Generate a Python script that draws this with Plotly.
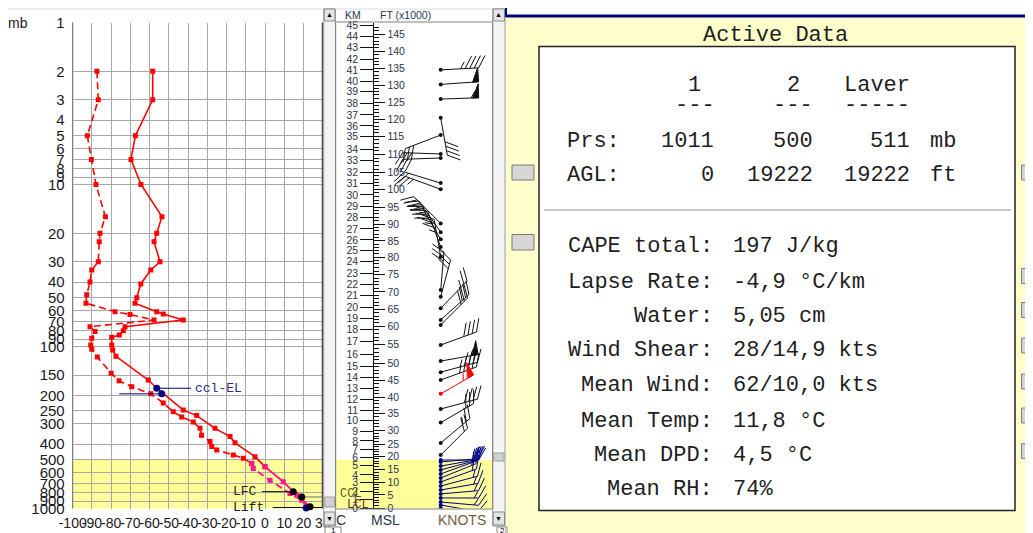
import numpy as np
import plotly.graph_objects as go

W, H = 1033, 533          # target picture size
OFF = 8                   # page body margin
FW_, FH_ = W - OFF, H - OFF
SANS = "Arial, Liberation Sans, sans-serif"
MONO = "Courier New, Liberation Mono, monospace"

# ---------------- sounding data ----------------
temp_p = [2, 3, 5, 7, 10, 15.8, 20, 22.6, 30, 33.7, 41.1, 50, 54.1, 61, 63, 68.6, 75.5, 79.9,
          84.9, 87.7, 97.9, 105, 115, 161, 181, 247, 267, 320, 360, 393, 479, 552, 684, 826, 975, 1011]
temp_c = [-58.4, -58.4, -67.4, -69.7, -64.5, -53.6, -56.3, -57.7, -54.6, -59.4, -64.6, -66.7, -67.6,
          -56.3, -52.9, -42.5, -72.8, -73.7, -75.8, -79.7, -79.7, -79.2, -77.5, -60.7, -56.3, -42.5,
          -35.5, -26.0, -18.2, -15.6, -5.2, 0.0, 9.5, 16.5, 23.4, 24.3]
dew_p = [2, 3, 5, 7, 10, 15.8, 20, 22.6, 30, 33.7, 40, 48, 54, 61, 63.5, 68.6, 75.5, 80.8, 89, 98,
         104, 116, 146, 163, 177, 196, 223, 253, 272, 292, 320, 353, 386, 415, 435, 467, 489, 527,
         567, 670, 808, 889, 975, 1011]
dew_c = [-87.4, -86.7, -92.4, -90.3, -87.9, -83.0, -85.8, -86.2, -86.7, -90.1, -91.0, -92.7, -93.1,
         -78.0, -70.2, -57.7, -91.0, -88.4, -90.1, -90.6, -90.1, -87.2, -80.0, -75.9, -69.3, -59.4,
         -52.9, -47.7, -43.3, -37.3, -33.8, -33.0, -28.6, -27.7, -25.1, -16.5, -11.3, -6.9, -6.1,
         2.6, 13.0, 19.1, 21.7, 22.0]
layer_top_p, layer_bot_p = 500, 1011

p_ticks = [1, 2, 3, 4, 5, 6, 7, 8, 9, 10, 20, 30, 40, 50, 60, 70, 80, 90, 100, 150, 200, 250, 300,
           400, 500, 600, 700, 800, 900, 1000]
t_ticks = list(range(-100, 31, 10))

# parcel levels (temperature C, pressure mb)
ccl_el = (-56.3, 181)
lfc_el = (-53.7, 196)
lfc_pt = (14.7, 787)
lcl_pt = (19.1, 849)
lift_pt = (23.4, 975)
sfc_pt = (21.4, 992)

# ---------------- wind data ----------------
barb_p = [1.96, 2.41, 2.97, 3.87, 4.95, 6.48, 6.86, 9.8, 10.7, 17.4, 19.7, 21.8, 24.3, 27.9, 44.8,
          49.3, 58.1, 68.6, 73.6, 97.9, 123, 144, 161, 196, 243, 295, 394, 468, 502, 516, 547, 578,
          612, 648, 686, 727, 769, 813, 861, 912, 951, 994]
barb_dir = [87, 86, 88, 170, 249, 272, 268, 287, 290, 315, 325, 330, 340, 350, 5, 15, 44, 48, 45,
            70, 80, 75, 70, 60, 75, 60, 50, 45, 90, 85, 80, 75, 70, 68, 70, 75, 80, 85, 90, 95, 100, 170]
barb_spd = [45, 50, 55, 40, 30, 25, 30, 20, 25, 35, 35, 40, 35, 35, 30, 30, 25, 30, 30, 40, 55, 45,
            45, 65, 40, 30, 25, 20, 20, 20, 20, 20, 20, 20, 20, 15, 15, 15, 15, 15, 10, 10]
highlight_p = 196

km_labels = list(range(46))
km_p = [1000, 877, 780, 693, 621, 539, 483, 431, 383, 336, 287, 247, 212, 181, 155, 132, 112, 93.4,
        78.3, 66.9, 57.3, 48.6, 41.3, 35.3, 29.7, 25.6, 22.0, 18.8, 16.0, 13.7, 11.6, 9.83, 8.46,
        7.13, 6.04, 5.07, 4.35, 3.72, 3.15, 2.67, 2.30, 1.96, 1.68, 1.43, 1.22, 1.04]
ft_major = list(range(0, 146, 5))
ft_minor = list(range(0, 148))

# ---------------- active data panel ----------------
hdr_cols = ["1", "2", "Laver"]
hdr_dash = ["---", "---", "-----"]
prs_vals = ["1011", "500", "511"]
agl_vals = ["0", "19222", "19222"]
stat_labels = ["CAPE total:", "Lapse Rate:", "Water:", "Wind Shear:", "Mean Wind:",
               "Mean Temp:", "Mean DPD:", "Mean RH:"]
stat_values = ["197 J/kg", "-4,9 °C/km", "5,05 cm", "28/14,9 kts", "62/10,0 kts",
               "11,8 °C", "4,5 °C", "74%"]

# ---------------- geometry (screen pixels) ----------------
XL, XR = 72.7, 322.7
YT, YB = 22.5, 508.5
WL, WR = 335.7, 492.7
AXX = 373.3
STX = 440.7


def PX(x):
    return (x - OFF) / FW_


def PY(y):
    return 1 - (y - OFF) / FH_


RED, PINK, NAVY, BLACK = "#ff0000", "#ff1493", "#000080", "#111111"
fig = go.Figure()


# ---- main thermo chart ----
def split(pv, tv, lo):
    pv, tv = np.array(pv, float), np.array(tv, float)
    k = int(np.argmax(pv >= lo))
    return (pv[:k + 1], tv[:k + 1]), (pv[k:], tv[k:])


for pv, tv, dash in [(temp_p, temp_c, "solid"), (dew_p, dew_c, "7px,4px")]:
    up, lo = split(pv, tv, layer_top_p)
    fig.add_trace(go.Scatter(x=up[1], y=up[0], mode="lines+markers",
                             line=dict(color=RED, width=1.6, dash=dash),
                             marker=dict(symbol="square", size=5, color=RED),
                             xaxis="x", yaxis="y", hoverinfo="skip"))
    fig.add_trace(go.Scatter(x=lo[1], y=lo[0], mode="lines+markers",
                             line=dict(color=PINK, width=1.8, dash=dash),
                             marker=dict(symbol="square", size=5, color=PINK),
                             xaxis="x", yaxis="y", hoverinfo="skip", cliponaxis=False))

lvl_lines = [
    ([ccl_el[0], -38.5], [ccl_el[1]] * 2, NAVY),
    ([-75.8, lfc_el[0]], [lfc_el[1]] * 2, NAVY),
    ([-1.5, lfc_pt[0]], [lfc_pt[1]] * 2, BLACK),
    ([lcl_pt[0], 30], [lcl_pt[1]] * 2, "#707070"),
    ([4.0, 30], [986] * 2, BLACK),
]
for xs, ys, c in lvl_lines:
    fig.add_trace(go.Scatter(x=xs, y=ys, mode="lines", line=dict(color=c, width=1),
                             xaxis="x", yaxis="y", hoverinfo="skip"))
fig.add_trace(go.Scatter(x=[ccl_el[0], lfc_el[0], sfc_pt[0]], y=[ccl_el[1], lfc_el[1], sfc_pt[1]],
                         mode="markers", marker=dict(size=7, color=NAVY), cliponaxis=False,
                         xaxis="x", yaxis="y", hoverinfo="skip"))
fig.add_trace(go.Scatter(x=[lfc_pt[0], lcl_pt[0], lift_pt[0]], y=[lfc_pt[1], lcl_pt[1], lift_pt[1]],
                         mode="markers", marker=dict(size=7, color="#000000"), cliponaxis=False,
                         xaxis="x", yaxis="y", hoverinfo="skip"))

# ---- wind barbs ----
pxd = (YB - YT) / 3.0


def wxy(p, dx, dy):
    return STX - WL + dx, np.log10(p) - dy / pxd


Lb, FULL, SP, FLW = 38, 14, 4.5, 6
groups = {}
dots_x, dots_y, dots_c = [], [], []
for p, d, s in zip(barb_p, barb_dir, barb_spd):
    col = RED if p == highlight_p else (NAVY if p >= layer_top_p else BLACK)
    g = groups.setdefault(col, dict(lx=[], ly=[], fx=[], fy=[]))
    t = np.radians(d)
    ux, uy = np.sin(t), np.cos(t)
    nx, ny = -uy, ux
    bx, by = 0.5 * ux + 0.866 * nx, 0.5 * uy + 0.866 * ny
    segs = [((0, 0), (Lb * ux, Lb * uy))]
    n50, r = divmod(int(round(s / 5.0)) * 5, 50)
    n10, r = divmod(r, 10)
    n5 = r // 5
    pos = Lb
    for _ in range(n50):
        tri = [(pos * ux, pos * uy), (pos * ux + FULL * nx, pos * uy + FULL * ny),
               ((pos - FLW) * ux, (pos - FLW) * uy), (pos * ux, pos * uy)]
        for a, b in tri:
            xx, yy = wxy(p, a, b)
            g["fx"].append(xx); g["fy"].append(yy)
        g["fx"].append(None); g["fy"].append(None)
        pos -= FLW + 1.5
    for _ in range(n10):
        segs.append(((pos * ux, pos * uy), (pos * ux + FULL * bx, pos * uy + FULL * by)))
        pos -= SP
    if n5:
        if n50 + n10 == 0:
            pos -= SP
        segs.append(((pos * ux, pos * uy), (pos * ux + 0.55 * FULL * bx, pos * uy + 0.55 * FULL * by)))
    for a, b in segs:
        x0, y0 = wxy(p, *a)
        x1, y1 = wxy(p, *b)
        g["lx"] += [x0, x1, None]
        g["ly"] += [y0, y1, None]
    sx, sy = wxy(p, 0, 0)
    dots_x.append(sx); dots_y.append(sy); dots_c.append(col)

for col, g in groups.items():
    fig.add_trace(go.Scatter(x=g["lx"], y=g["ly"], mode="lines", line=dict(color=col, width=1),
                             xaxis="x2", yaxis="y2", hoverinfo="skip"))
    if g["fx"]:
        fig.add_trace(go.Scatter(x=g["fx"], y=g["fy"], mode="lines", fill="toself", fillcolor=col,
                                 line=dict(color=col, width=1), xaxis="x2", yaxis="y2", hoverinfo="skip"))
fig.add_trace(go.Scatter(x=dots_x, y=dots_y, mode="markers", marker=dict(size=4, color=dots_c),
                         xaxis="x2", yaxis="y2", hoverinfo="skip"))
for ya in ["y3", "y4"]:
    fig.add_trace(go.Scatter(x=[1], y=[1.5], mode="markers", marker=dict(opacity=0),
                             xaxis="x2", yaxis=ya, hoverinfo="skip"))

km_vals = np.log10(km_p)
km_idx = np.array(km_labels, float)
ft_major_pos = np.interp(np.array(ft_major) * 0.3048, km_idx, km_vals)
ft_minor_pos = np.interp(np.array(ft_minor) * 0.3048, km_idx, km_vals)

ydom = [PY(YB), PY(YT)]
grid = "#a8a8a8"
TICKC = "#2b3550"
fig.update_layout(
    width=FW_, height=FH_, autosize=False, margin=dict(l=0, r=0, t=0, b=0, pad=0),
    paper_bgcolor="white", plot_bgcolor="white", showlegend=False,
    xaxis=dict(domain=[PX(XL), PX(XR)], range=[-100, 30], tickmode="array", tickvals=t_ticks,
               ticktext=[str(v) for v in t_ticks], showgrid=True, gridcolor=grid, gridwidth=1,
               zeroline=False, ticks="outside", ticklen=2, tickcolor="rgba(0,0,0,0)", tickangle=0,
               tickfont=dict(family=SANS, size=14, color="#1a1a1a"), anchor="y", showline=False,
               automargin=False),
    yaxis=dict(domain=ydom, type="log", range=[3, 0], tickmode="array", tickvals=p_ticks,
               ticktext=[str(v) for v in p_ticks], showgrid=True, gridcolor=grid, gridwidth=1,
               zeroline=False, ticks="outside", ticklen=4, tickcolor="rgba(0,0,0,0)",
               tickfont=dict(family=SANS, size=15, color="#1a1a1a"), anchor="x", showline=False,
               automargin=False),
    xaxis2=dict(domain=[PX(WL), PX(WR)], range=[0, WR - WL], showgrid=False, zeroline=False,
                showticklabels=False, ticks="", showline=False, anchor="y2", automargin=False),
    yaxis2=dict(domain=ydom, range=[3, 0], showgrid=False, zeroline=False, showticklabels=False,
                ticks="", showline=False, anchor="x2", automargin=False),
    yaxis3=dict(overlaying="y2", anchor="free", position=PX(AXX), side="left", range=[3, 0],
                tickmode="array", tickvals=km_vals, ticktext=[str(k) for k in km_labels],
                ticks="outside", ticklen=13, tickwidth=1, tickcolor="#111", showline=True,
                linecolor="#111", linewidth=1, showgrid=False, zeroline=False, automargin=False,
                tickfont=dict(family=SANS, size=10.5, color=TICKC)),
    yaxis4=dict(overlaying="y2", anchor="free", position=PX(AXX), side="right", range=[3, 0],
                tickmode="array", tickvals=ft_major_pos, ticktext=[str(f) for f in ft_major],
                ticks="outside", ticklen=11, tickwidth=1, tickcolor="#111", showline=False,
                showgrid=False, zeroline=False, automargin=False,
                minor=dict(tickmode="array", tickvals=ft_minor_pos, ticks="outside", ticklen=5,
                           tickcolor="#111", tickwidth=1, showgrid=False),
                tickfont=dict(family=SANS, size=10.5, color=TICKC)),
)

shapes = []
shapes.append(dict(type="rect", xref="x", yref="y", x0=-100, x1=30, y0=layer_top_p, y1=layer_bot_p,
                   fillcolor="#ffff99", line=dict(width=0), layer="below"))
shapes.append(dict(type="rect", xref="x2", yref="y2", x0=0, x1=WR - WL, y0=np.log10(layer_top_p),
                   y1=np.log10(layer_bot_p), fillcolor="#ffff99", line=dict(width=0), layer="below"))


def prect(x0, y0, x1, y1, fill=None, line="#888", lw=1, layer="above"):
    shapes.append(dict(type="rect", xref="paper", yref="paper", x0=PX(x0), x1=PX(x1), y0=PY(y1),
                       y1=PY(y0), fillcolor=fill if fill else "rgba(0,0,0,0)",
                       line=dict(color=line, width=lw) if lw else dict(width=0), layer=layer))


def pline(x0, y0, x1, y1, color, lw=1):
    shapes.append(dict(type="line", xref="paper", yref="paper", x0=PX(x0), x1=PX(x1), y0=PY(y0),
                       y1=PY(y1), line=dict(color=color, width=lw)))


pline(XL, YT, XL, YB, "#606060", 1)
pline(XR, YT, XR, YB, "#505050", 2)
pline(8, 9, 505, 9, "#dddddd", 1)
for sx0, sx1, thumb in [(323.7, 335.5, (497, 507)), (492.7, 505, (453, 461))]:
    prect(sx0, 9, sx1, 526, fill="#f4f4f4", line="#a0a0a0")
    prect(sx0 + 0.5, 9, sx1 - 0.5, 21, fill="#e4e4e4", line="#8a8a8a")
    prect(sx0 + 0.5, 512, sx1 - 0.5, 525, fill="#e4e4e4", line="#8a8a8a")
    prect(sx0 + 1, thumb[0], sx1 - 1, thumb[1], fill="#d0d0d0", line="#a0a0a0")
prect(WL, 22, WR, 509, line="#808080", lw=1)
prect(325, 527, 341, 534, fill="white", line="#888")
prect(497, 527, 507, 534, fill="white", line="#888")
prect(505, 17, 1034, 534, fill="#ffffcc", lw=0, layer="below")
pline(505, 16, 1034, 16, "#000080", 3)
pline(506, 8, 506, 17, "#000080", 2)
pline(505.5, 17, 505.5, 533, "#c8c8c8", 1)
prect(539, 46.6, 1015, 510.5, fill="white", line="#222222", lw=1.5, layer="below")
pline(544, 210, 1011, 210, "#c8c8c8", 2)
for by0, by1 in [(165, 180), (234.5, 250)]:
    prect(512, by0, 534, by1, fill="#d6d6d6", line="#7a7a7a")
for by0 in [165, 268.5, 302.5, 338, 374, 408, 443.6]:
    prect(1021.6, by0, 1036, by0 + 15, fill="#d6d6d6", line="#7a7a7a")
fig.update_layout(shapes=shapes)

ann = []


def txt(x, y, s, size=14, color="#1a1a1a", family=SANS, xa="center", ya="middle", ref="paper"):
    if ref == "paper":
        ann.append(dict(x=PX(x), y=PY(y), xref="paper", yref="paper", text=s, showarrow=False,
                        xanchor=xa, yanchor=ya, font=dict(family=family, size=size, color=color)))
    else:
        ann.append(dict(x=x, y=np.log10(y), xref="x", yref="y", text=s, showarrow=False,
                        xanchor=xa, yanchor=ya, font=dict(family=family, size=size, color=color)))


txt(18, 23, "mb", 14)
txt(341, 520, "C", 14, TICKC)
txt(385, 520, "MSL", 14, TICKC)
txt(462, 520, "KNOTS", 14, "#7a5c3c")
txt(353, 15, "KM", 10.5, TICKC)
txt(405, 15, "FT (x1000)", 10.5, TICKC)
txt(329.6, 15, "▲", 7, "#000")
txt(329.6, 518.5, "▼", 7, "#000")
txt(498.8, 15, "▲", 7, "#000")
txt(498.8, 518.5, "▼", 7, "#000")
txt(333, 530.5, "1", 8, "#000")
txt(502, 530.5, "2", 8, "#000")
txt(338, 494, "CCL", 12, "#5a5a1a", MONO, xa="left")
txt(345, 504.5, "LCL", 12, "#6a2a2a", MONO, xa="left")
txt(-37.5, ccl_el[1], "ccl-EL", 13, "#2e2e8f", MONO, xa="left", ref="x")
txt(-100.3, lfc_el[1], "lfc-EL", 13, "#2e2e8f", MONO, xa="left", ref="x")
txt(-17.5, lfc_pt[1], "LFC", 13, "#222", MONO, xa="left", ref="x")
txt(-17.5, 990, "Lift", 13, "#222", MONO, xa="left", ref="x")

PF = 22
TC = "#1e1e1e"
txt(775, 35.7, "Active Data", PF, TC, MONO)
for cx, h, dsh in zip([694.7, 793.2, 877.2], hdr_cols, hdr_dash):
    txt(cx, 85, h, PF, TC, MONO)
    txt(cx, 106, dsh, PF, TC, MONO)
txt(564.5, 141, "Prs:", PF, TC, MONO, xa="left")
txt(564.5, 175, "AGL:", PF, TC, MONO, xa="left")
for rx, pv, av in zip([716, 814.5, 911.5], prs_vals, agl_vals):
    txt(rx, 141, pv, PF, TC, MONO, xa="right")
    txt(rx, 175, av, PF, TC, MONO, xa="right")
txt(928, 141, "mb", PF, TC, MONO, xa="left")
txt(928, 175, "ft", PF, TC, MONO, xa="left")
for yy, lab, val in zip([246.4, 282.1, 316.1, 350.1, 385.8, 421.5, 455.5, 489.5], stat_labels, stat_values):
    txt(715, yy, lab, PF, TC, MONO, xa="right")
    txt(731, yy, val, PF, TC, MONO, xa="left")

fig.update_layout(annotations=ann)
fig.write_html("out.html")
